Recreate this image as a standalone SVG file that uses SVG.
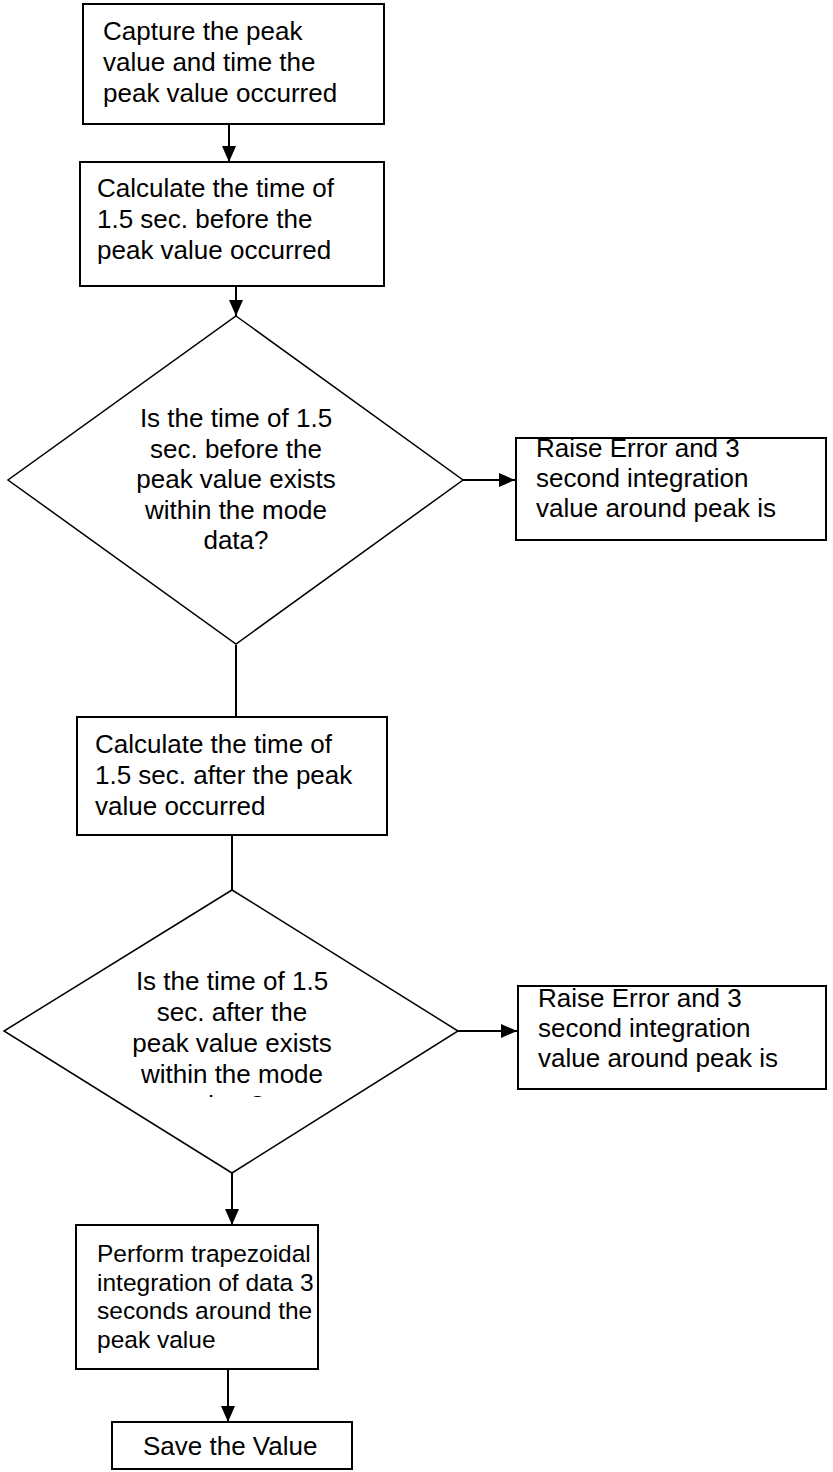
<svg xmlns="http://www.w3.org/2000/svg" width="833" height="1472" viewBox="0 0 833 1472">
<style>
.box{fill:#fff;stroke:#000;stroke-width:2}
.dia{fill:#fff;stroke:#000;stroke-width:1.5}
.t{font-family:"Liberation Sans",Arial,sans-serif;font-size:26px;fill:#000}
.s{font-size:24.5px}
.c{text-anchor:middle}
.con{stroke:#000;stroke-width:2;fill:none}
</style>
<defs>
<marker id="ah" viewBox="0 0 16 14" refX="16" refY="7" markerWidth="16" markerHeight="14" markerUnits="userSpaceOnUse" orient="auto">
<path d="M0,0 L16,7 L0,14 z" fill="#000"/>
</marker>
<clipPath id="c3"><rect x="516" y="438" width="310" height="101"/></clipPath>
<clipPath id="c5"><rect x="518" y="986" width="308" height="103"/></clipPath>
<clipPath id="cd2"><rect x="0" y="880" width="470" height="217"/></clipPath>
</defs>
<g id="connectors">
<line class="con" x1="229" y1="124" x2="229" y2="162" marker-end="url(#ah)"/>
<line class="con" x1="236" y1="286" x2="236" y2="316" marker-end="url(#ah)"/>
<line class="con" x1="463" y1="480" x2="515" y2="480" marker-end="url(#ah)"/>
<line class="con" x1="236" y1="645" x2="236" y2="717"/>
<line class="con" x1="232" y1="835" x2="232" y2="890"/>
<line class="con" x1="458" y1="1031" x2="517" y2="1031" marker-end="url(#ah)"/>
<line class="con" x1="232" y1="1173" x2="232" y2="1225" marker-end="url(#ah)"/>
<line class="con" x1="228" y1="1369" x2="228" y2="1422" marker-end="url(#ah)"/>
</g>
<g id="n1">
<rect class="box" x="83" y="4" width="301" height="120"/>
<text class="t" x="103" y="40">Capture the peak</text>
<text class="t" x="103" y="71">value and time the</text>
<text class="t" x="103" y="102">peak value occurred</text>
</g>
<g id="n2">
<rect class="box" x="80" y="162" width="304" height="124"/>
<text class="t" x="97" y="197">Calculate the time of</text>
<text class="t" x="97" y="228">1.5 sec. before the</text>
<text class="t" x="97" y="259">peak value occurred</text>
</g>
<g id="n3">
<polygon class="dia" points="236,316 463,480 236,644 8,480"/>
<text class="t c" x="236" y="427">Is the time of 1.5</text>
<text class="t c" x="236" y="457.5">sec. before the</text>
<text class="t c" x="236" y="488">peak value exists</text>
<text class="t c" x="236" y="518.5">within the mode</text>
<text class="t c" x="236" y="549">data?</text>
</g>
<g id="n4">
<rect class="box" x="516" y="438" width="310" height="102"/>
<g clip-path="url(#c3)">
<text class="t" x="536" y="457">Raise Error and 3</text>
<text class="t" x="536" y="487">second integration</text>
<text class="t" x="536" y="517">value around peak is</text>
</g>
</g>
<g id="n5">
<rect class="box" x="77" y="717" width="310" height="118"/>
<text class="t" x="95" y="753">Calculate the time of</text>
<text class="t" x="95" y="784">1.5 sec. after the peak</text>
<text class="t" x="95" y="815">value occurred</text>
</g>
<g id="n6">
<polygon class="dia" points="232,890 458,1031 232,1173 4,1031"/>
<g clip-path="url(#cd2)">
<text class="t c" x="232" y="990">Is the time of 1.5</text>
<text class="t c" x="232" y="1021">sec. after the</text>
<text class="t c" x="232" y="1052">peak value exists</text>
<text class="t c" x="232" y="1083">within the mode</text>
<text class="t c" x="232" y="1114">data?</text>
</g>
</g>
<g id="n7">
<rect class="box" x="518" y="986" width="308" height="103"/>
<g clip-path="url(#c5)">
<text class="t" x="538" y="1007">Raise Error and 3</text>
<text class="t" x="538" y="1037">second integration</text>
<text class="t" x="538" y="1067">value around peak is</text>
</g>
</g>
<g id="n8">
<rect class="box" x="76" y="1225" width="242" height="144"/>
<text class="t s" x="97" y="1262">Perform trapezoidal</text>
<text class="t s" x="97" y="1290.5">integration of data 3</text>
<text class="t s" x="97" y="1319">seconds around the</text>
<text class="t s" x="97" y="1347.5">peak value</text>
</g>
<g id="n9">
<rect class="box" x="112" y="1422" width="240" height="47"/>
<text class="t" x="143" y="1455">Save the Value</text>
</g>
</svg>
